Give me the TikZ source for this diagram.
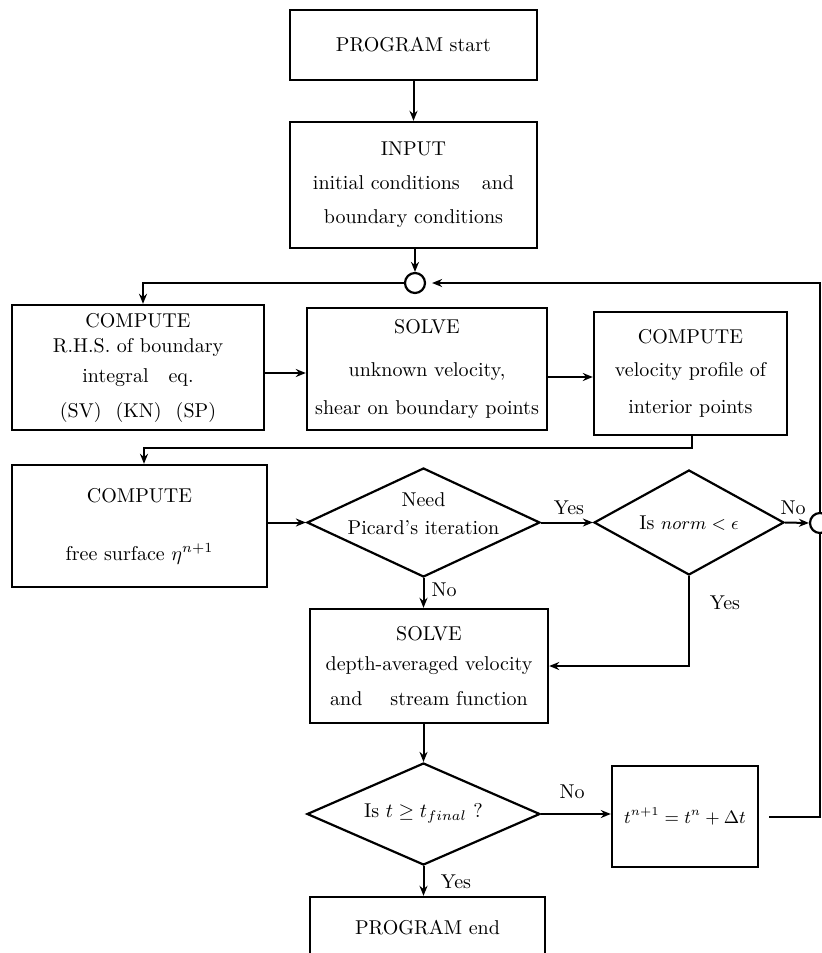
\documentclass[tikz,border=0pt]{standalone}
\usetikzlibrary{shapes.geometric,arrows.meta,calc}
\begin{document}
\begin{tikzpicture}[x=0.5pt,y=-0.5pt,
  box/.style={draw,line width=1.2pt,align=center,inner sep=0pt,font=\fontsize{10}{12}\selectfont},
  dia/.style={draw,diamond,line width=1.1pt,inner sep=0pt},
  circ/.style={draw,circle,line width=1.1pt,minimum size=10pt,inner sep=0pt},
  arr/.style={-{Stealth[length=5pt,width=4pt]},line width=1pt},
  ln/.style={line width=1pt},
  lbl/.style={font=\fontsize{10}{12}\selectfont,inner sep=0pt,align=center}]
\useasboundingbox (0,0) rectangle (822,953);
\clip (0,0) rectangle (822,953);

\node[box,minimum width=123.5pt,minimum height=35pt] (start) at (413.5,45) {PROGRAM start};
\node[box,minimum width=123.5pt,minimum height=63pt] (input) at (413.5,185) {INPUT\\[5pt]initial conditions\hspace{11pt}and\\[5pt]boundary conditions};
\node[circ] (c1) at (415,283) {};
\node[box,minimum width=126pt,minimum height=62.5pt] (rhs) at (138,367.5) {COMPUTE\\[0.5pt]R.H.S. of boundary\\[3pt]integral\hspace{10pt}eq.\\[5.5pt](SV)\hspace{7pt}(KN)\hspace{7pt}(SP)};
\node[box,minimum width=120pt,minimum height=61pt] (solveA) at (427,369) {SOLVE\\[9.5pt]unknown velocity,\\[7pt]shear on boundary points};
\node[box,minimum width=96.5pt,minimum height=61.5pt] (vel) at (690.5,373.5) {COMPUTE\\[4.5pt]velocity profile of\\[6.5pt]interior points};
\node[box,minimum width=127.5pt,minimum height=61pt] (free) at (139.5,526) {COMPUTE\\[17pt]free surface $\eta^{n+1}$};
\node[dia,minimum width=116.5pt,minimum height=54.5pt] (d1) at (423.5,522.5) {};
\node[lbl] (d1t) at (423.5,514) {Need\\[2pt]Picard's iteration};
\node[dia,minimum width=95pt,minimum height=52.5pt] (d2) at (689,522.5) {};
\node[lbl] (d2t) at (689,523) {Is {\small$norm<\epsilon$}};
\node[circ] (c2) at (820,523) {};
\node[box,minimum width=119pt,minimum height=57pt] (solveB) at (429,666) {SOLVE\\[3pt]depth-averaged velocity\\[5.5pt]and\hspace{14pt}stream function};
\node[dia,minimum width=116.5pt,minimum height=51pt] (d3) at (423.5,814) {};
\node[lbl] (d3t) at (423.5,813) {Is $t\geq t_{final}$ ?};
\node[box,minimum width=73pt,minimum height=50.5pt] (tbox) at (685,816.5) {\small$t^{n+1}=t^{n}+\Delta t$};
\node[box,minimum width=117.5pt,minimum height=31pt] (end) at (427.5,928) {PROGRAM end};

\draw[arr] (start) -- (input);
\draw[arr] (input.south -| c1) -- (c1.north);
\draw[arr] (c1.west) -| ([xshift=2.5pt]rhs.north);
\draw[arr] ([yshift=-2.75pt]rhs.east) -- ([yshift=-2.75pt]rhs.east -| solveA.west);
\draw[arr] ([yshift=-4pt]solveA.east) -- ([yshift=-4pt]solveA.east -| vel.west);
\coordinate (j1) at (692,448);
\draw[arr] (vel.south -| j1) -- (j1) -| ([xshift=2.25pt]free.north);
\draw[arr] (d1.west -| free.east) -- (d1.west);
\draw[arr] (d1.east) -- (d2.west);
\node[lbl] (yes1) at (569,508) {Yes};
\draw[arr] (d2.east) -- (c2.west);
\node[lbl] (no1) at (793,508) {No};
\draw[arr] (c2.north) |- ([xshift=3pt]c1.east);
\draw[ln] ([xshift=5pt]tbox.east) -| (c2.south);
\draw[arr] (d1.south) -- (d1.south |- solveB.north);
\node[lbl] (no2) at (444,590) {No};
\draw[arr] (d2.south) |- (solveB.east);
\node[lbl] (yes2) at (725,603) {Yes};
\draw[arr] (solveB.south -| d3) -- (d3.north);
\draw[arr] (d3.east) -- (d3.east -| tbox.west);
\node[lbl] (no3) at (572,792) {No};
\draw[arr] (d3.south) -- (d3.south |- end.north);
\node[lbl] (yes3) at (456,882) {Yes};
\end{tikzpicture}
\end{document}
